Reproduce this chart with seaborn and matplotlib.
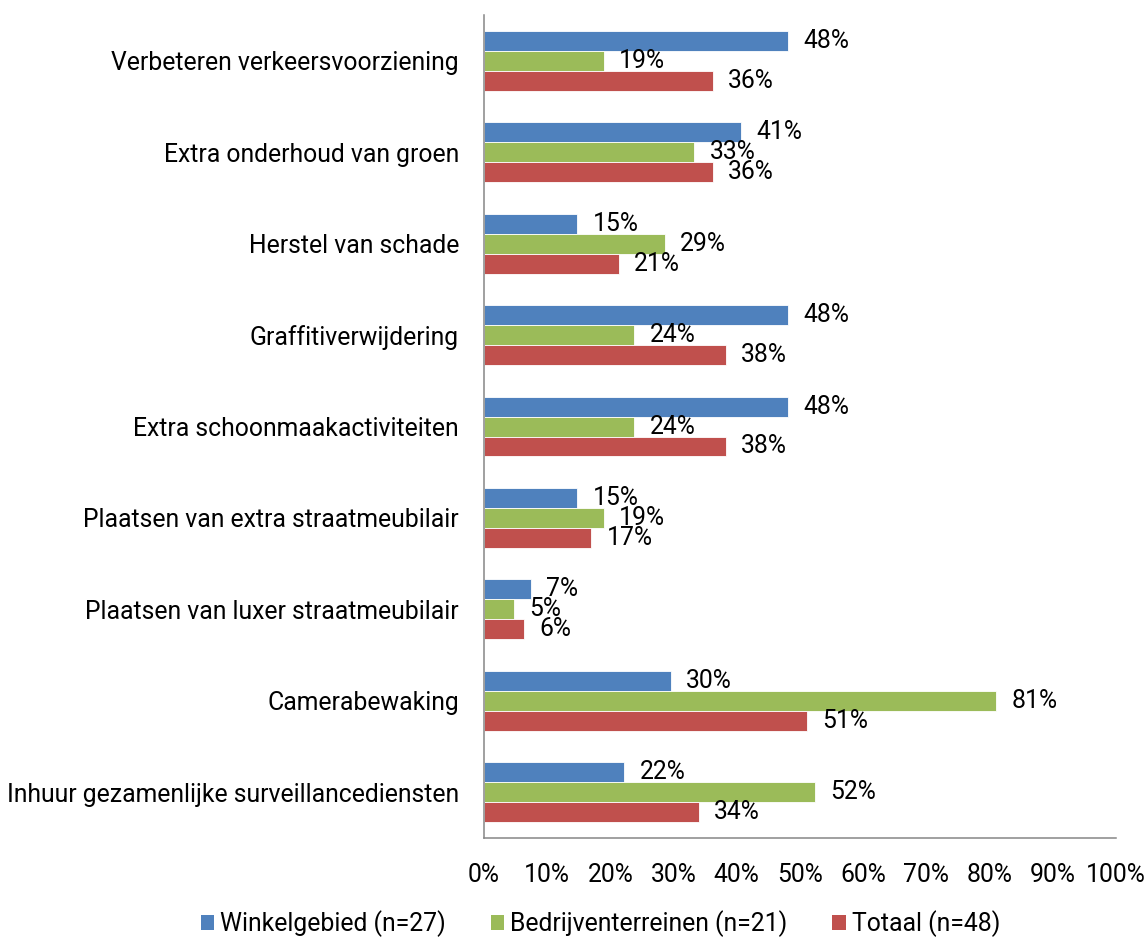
import pandas as pd
import matplotlib.pyplot as plt
import matplotlib.ticker as mticker
from matplotlib.patches import Patch
import seaborn as sns

# ──────────────────────────────────────────────
# DATA
# ──────────────────────────────────────────────

categories = [
    "Verbeteren verkeersvoorziening",
    "Extra onderhoud van groen",
    "Herstel van schade",
    "Graffitiverwijdering",
    "Extra schoonmaakactiviteiten",
    "Plaatsen van extra straatmeubilair",
    "Plaatsen van luxer straatmeubilair",
    "Camerabewaking",
    "Inhuur gezamenlijke surveillancediensten",
]
series = ["Winkelgebied (n=27)", "Bedrijventerreinen (n=21)", "Totaal (n=48)"]

winkelgebied = [48.1, 40.7, 14.8, 48.1, 48.1, 14.8, 7.4, 29.6, 22.2]
bedrijventerreinen = [19.0, 33.3, 28.6, 23.8, 23.8, 19.0, 4.8, 81.0, 52.4]
totaal = [36.2, 36.2, 21.3, 38.3, 38.3, 17.0, 6.4, 51.1, 34.0]

x_ticks = list(range(0, 101, 10))

COLORS = ["#4F81BD", "#9BBB59", "#C0504D"]
AXIS_GRAY = "#868686"
FS = 17.8

# ──────────────────────────────────────────────
# STYLE
# ──────────────────────────────────────────────

sns.set_theme(style="white")
plt.rcParams.update({
    "font.family": ["Roboto", "DejaVu Sans"],
    "font.size": FS,
    "text.color": "black",
    "xtick.color": AXIS_GRAY,
    "ytick.color": AXIS_GRAY,
    "xtick.labelcolor": "black",
    "ytick.labelcolor": "black",
})

df = pd.DataFrame({
    "categorie": categories * 3,
    "groep": [s for s in series for _ in categories],
    "waarde": winkelgebied + bedrijventerreinen + totaal,
})

fig = plt.figure(figsize=(11.46, 9.43), dpi=100)
ax = fig.add_axes([0.4223, 0.1113, 0.9738 - 0.4223, 0.9841 - 0.1113])

sns.barplot(
    data=df, y="categorie", x="waarde", hue="groep",
    order=categories, hue_order=series, palette=COLORS, saturation=1,
    orient="h", width=0.655, gap=0, ax=ax,
    edgecolor="white", linewidth=0.6, legend=False,
)

# value labels next to each bar
for cont in ax.containers:
    ax.bar_label(cont, labels=[f"{v:.0f}%" for v in cont.datavalues],
                 padding=11, fontsize=FS, color="black")

# axes
ax.set_xlim(0, 100)
ax.set_ylim(len(categories) - 0.5, -0.5)
ax.set_xticks(x_ticks)
ax.xaxis.set_major_formatter(mticker.FuncFormatter(lambda v, p: f"{v:.0f}%"))
ax.tick_params(axis="x", direction="out", length=6, width=1.1, pad=12, labelsize=FS)
ax.tick_params(axis="y", which="major", length=0, pad=18, labelsize=FS)
ax.set_yticks([i - 0.5 for i in range(len(categories) + 1)], minor=True)
ax.tick_params(axis="y", which="minor", direction="out", length=6, width=1.1)
ax.set_xlabel("")
ax.set_ylabel("")

for side in ["top", "right"]:
    ax.spines[side].set_visible(False)
for side in ["left", "bottom"]:
    ax.spines[side].set_color(AXIS_GRAY)
    ax.spines[side].set_linewidth(1.1)

handles = [Patch(facecolor=c, edgecolor="none") for c in COLORS]
fig.legend(handles, series, loc="lower center", bbox_to_anchor=(0.524, -0.017),
           ncol=3, frameon=False, fontsize=FS, handlelength=0.55, handleheight=0.55,
           handletextpad=0.25, columnspacing=1.8)

fig.savefig("out.png", dpi=100, facecolor="white")
